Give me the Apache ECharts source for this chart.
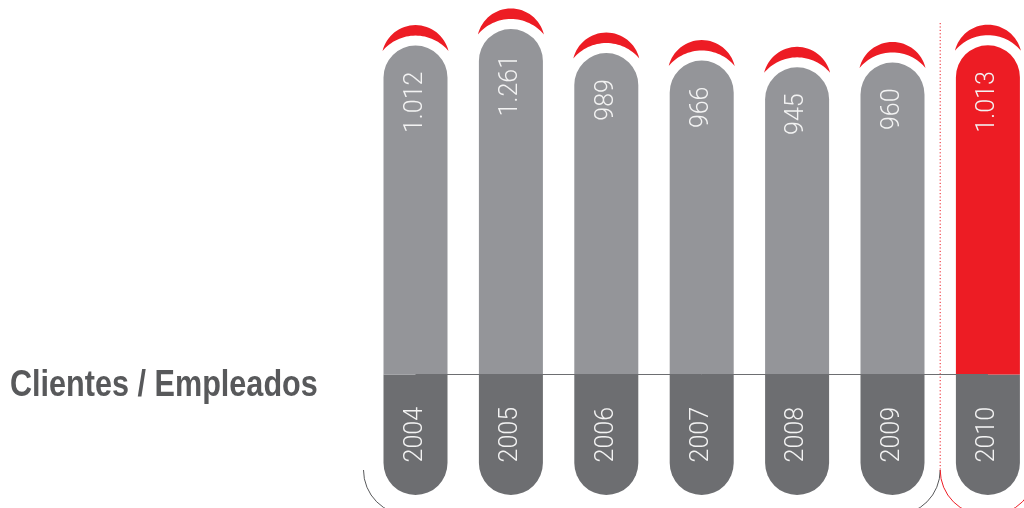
<!DOCTYPE html>
<html>
<head>
<meta charset="utf-8">
<title>Clientes / Empleados</title>
<script src="https://cdn.jsdelivr.net/npm/echarts@6/dist/echarts.min.js"></script>
<style>
  html, body { margin: 0; padding: 0; background: #ffffff; }
  #chart { width: 1024px; height: 508px; }
</style>
</head>
<body>
<div id="chart"></div>
<script>
// Clients per employee, by year
const years = ['2004', '2005', '2006', '2007', '2008', '2009', '2010'];
const clientsPerEmployee = [1012, 1261, 989, 966, 945, 960, 1013];
const highlightYear = '2010';
const chartTitle = 'Clientes / Empleados';

// Styling
const GREY = '#949599';
const DARK = '#6d6e71';
const RED = '#ed1c24';
const TEXT = '#f3f3f3';
const BAR_W = 64;
const BASE = 371;            // height of the year band under each bar, in axis units
const TOP = BASE + Math.max(...clientsPerEmployee);

// Spanish thousands separator
function fmt(v) {
  return v >= 1000 ? Math.floor(v / 1000) + '.' + String(v % 1000).padStart(3, '0') : String(v);
}

// Red crescent cap floating above a bar top
function renderCrescent(params, api) {
  const idx = api.value(0);
  const p = api.coord([idx, BASE + api.value(1)]);
  const cx = p[0], T = p[1];
  const h = BAR_W / 2 + 1;      // half span of the tips
  const tipY = T + 5.5;
  const outerApex = T - 20.5;
  const innerApex = T - 10;
  const dO = tipY - outerApex, dI = tipY - innerApex;
  const rO = (h * h + dO * dO) / (2 * dO);
  const rI = (h * h + dI * dI) / (2 * dI);
  const cyO = outerApex + rO, cyI = innerApex + rI;
  const aO = Math.atan2(tipY - cyO, h);
  const aI = Math.atan2(tipY - cyI, h);
  const pts = [];
  const N = 32;
  for (let k = 0; k <= N; k++) {
    const a = (-Math.PI - aO) + (aO - (-Math.PI - aO)) * k / N;
    pts.push([cx + rO * Math.cos(a), cyO + rO * Math.sin(a)]);
  }
  for (let k = 0; k <= N; k++) {
    const a = aI + ((-Math.PI - aI) - aI) * k / N;
    pts.push([cx + rI * Math.cos(a), cyI + rI * Math.sin(a)]);
  }
  return { type: 'polygon', shape: { points: pts }, style: { fill: RED } };
}

const chart = echarts.init(document.getElementById('chart'));

chart.setOption({
  animation: false,
  grid: {
    left: 367.8,
    width: 667.8,
    top: 29,
    bottom: 13,
    outerBoundsMode: 'none'
  },
  xAxis: {
    type: 'category',
    data: years,
    show: false
  },
  yAxis: {
    type: 'value',
    min: 0,
    max: TOP,
    show: false,
    splitLine: { show: false },
    breaks: [{ start: BASE + 1040, end: BASE + 1240, gap: 2 }],
    breakArea: { show: false }
  },
  series: [
    {
      name: 'Año',
      type: 'bar',
      stack: 'col',
      barWidth: BAR_W,
      data: years.map(() => BASE),
      itemStyle: { color: DARK, borderRadius: [0, 0, BAR_W / 2, BAR_W / 2] },
      label: {
        show: true,
        position: 'inside',
        rotate: 90,
        formatter: (p) => p.name,
        color: TEXT,
        fontFamily: 'Roboto, sans-serif',
        fontWeight: 300,
        fontSize: 25
      },
      silent: true
    },
    {
      name: chartTitle,
      type: 'bar',
      stack: 'col',
      barWidth: BAR_W,
      data: clientsPerEmployee.map((v, i) => ({
        value: v,
        itemStyle: { color: years[i] === highlightYear ? RED : GREY }
      })),
      itemStyle: { borderRadius: [BAR_W / 2, BAR_W / 2, 0, 0] },
      label: {
        show: true,
        position: 'insideTop',
        distance: 26,
        rotate: 90,
        align: 'right',
        verticalAlign: 'middle',
        formatter: (p) => fmt(p.value),
        color: TEXT,
        fontFamily: 'Roboto, sans-serif',
        fontWeight: 300,
        fontSize: 25
      },
      markLine: {
        silent: true,
        symbol: 'none',
        label: { show: false },
        lineStyle: { color: DARK, width: 1, type: 'solid' },
        data: [[{ xAxis: years[0], yAxis: BASE }, { xAxis: years[years.length - 1], yAxis: BASE }]]
      },
      silent: true
    },
    {
      name: 'cap',
      type: 'custom',
      renderItem: renderCrescent,
      data: clientsPerEmployee.map((v, i) => [i, v]),
      encode: { x: 0, y: 1 },
      silent: true,
      z: 1
    }
  ]
});

// Separator before the highlighted year and the rounded brackets under each group
const xPrev = chart.convertToPixel({ xAxisIndex: 0 }, years[years.length - 2]);
const xLast = chart.convertToPixel({ xAxisIndex: 0 }, years[years.length - 1]);
const xFirst = chart.convertToPixel({ xAxisIndex: 0 }, years[0]);
const sepX = (xPrev + xLast) / 2;
const R = 45, cornerY = 470;
const grayLeft = xFirst - 52;
const redRight = xLast + (xLast - sepX);

chart.setOption({
  graphic: [
    {
      // condensed bold heading
      type: 'text', silent: true,
      x: 10, y: 386,
      scaleX: 0.85,
      style: {
        text: chartTitle,
        font: 'bold 36px "Liberation Sans", Arial, sans-serif',
        fill: '#58595b',
        verticalAlign: 'middle'
      }
    },
    {
      type: 'line', silent: true,
      shape: { x1: sepX, y1: 23, x2: sepX, y2: cornerY },
      style: { stroke: RED, lineWidth: 1, lineDash: [1.2, 2.2] }
    },
    {
      type: 'arc', silent: true,
      shape: { cx: grayLeft + R, cy: cornerY, r: R, startAngle: Math.PI / 2, endAngle: Math.PI, clockwise: true },
      style: { stroke: '#58595b', lineWidth: 1, fill: null }
    },
    {
      type: 'arc', silent: true,
      shape: { cx: sepX - R, cy: cornerY, r: R, startAngle: 0, endAngle: Math.PI / 2, clockwise: true },
      style: { stroke: '#58595b', lineWidth: 1, fill: null }
    },
    {
      type: 'arc', silent: true,
      shape: { cx: sepX + R, cy: cornerY, r: R, startAngle: Math.PI / 2, endAngle: Math.PI, clockwise: true },
      style: { stroke: RED, lineWidth: 1, fill: null }
    },
    {
      type: 'arc', silent: true,
      shape: { cx: redRight - R, cy: cornerY, r: R, startAngle: 0, endAngle: Math.PI / 2, clockwise: true },
      style: { stroke: RED, lineWidth: 1, fill: null }
    }
  ]
});
</script>
</body>
</html>
